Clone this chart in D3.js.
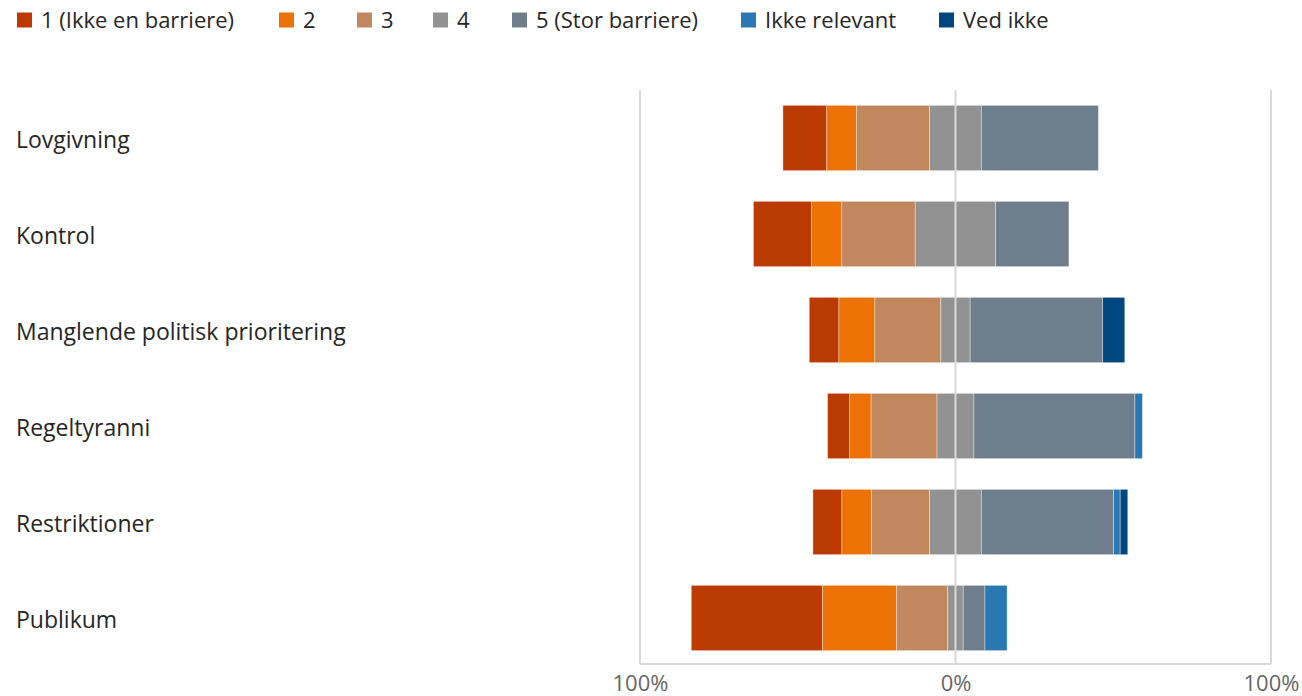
<!DOCTYPE html>
<html lang="da">
<head>
<meta charset="utf-8">
<title>Barrierer</title>
<style>
    body { margin: 0; background: #fff; }
    text { font-family: "Open Sans", "Noto Sans", sans-serif; }
    .cat { font-size: 23px; fill: #262626; }
    .tick { font-size: 22px; fill: #666; }
    .leg { font-size: 22px; fill: #262626; }
</style>
<script src="https://cdnjs.cloudflare.com/ajax/libs/d3/7.8.5/d3.min.js"></script>
</head>
<body>
<svg width="1302" height="696"></svg>
<script>
    const categories = ["Lovgivning", "Kontrol", "Manglende politisk prioritering", "Regeltyranni", "Restriktioner", "Publikum"];
    const seriesNames = ["1 (Ikke en barriere)", "2", "3", "4", "5 (Stor barriere)", "Ikke relevant", "Ved ikke"];
    const colors = ["#bb3a02", "#ec7106", "#c1875e", "#929292", "#6f7e8d", "#2a78b2", "#004780"];

    // percent per category, one array per series
    const s1 = [13.9, 18.4, 9.4, 7.0, 9.2, 41.6];
    const s2 = [9.4, 9.6, 11.4, 6.8, 9.4, 23.5];
    const s3 = [23.2, 23.3, 20.9, 20.9, 18.4, 16.2];
    const s4 = [16.4, 25.5, 9.3, 11.7, 16.4, 4.9];
    const s5 = [37.1, 23.2, 42.0, 51.0, 41.9, 6.9];
    const sIR = [0, 0, 0, 2.4, 2.1, 7.0];
    const sVI = [0, 0, 7.0, 0, 2.4, 0];
    const series = [s1, s2, s3, s4, s5, sIR, sVI];

    const tickValues = [-100, 0, 100];

    const svg = d3.select("svg");

    const x = d3.scaleLinear().domain([-100, 100]).range([640, 1271]);
    const y = d3.scaleBand().domain(categories).range([90, 666])
        .paddingInner(0.32).paddingOuter(0.16);

    // build segments: centre of category 4 at zero
    const segs = [];
    categories.forEach((c, i) => {
        let start = -(s1[i] + s2[i] + s3[i] + s4[i] / 2);
        series.forEach((s, k) => {
            segs.push({ cat: c, k: k, x0: start, x1: start + s[i] });
            start += s[i];
        });
    });

    // frame / grid
    const grid = svg.append("g");
    grid.selectAll("line.v").data(tickValues.filter(d => d !== 0)).enter().append("line")
        .attr("x1", d => x(d)).attr("x2", d => x(d))
        .attr("y1", 90).attr("y2", 664)
        .attr("stroke", "#d9d9d9").attr("stroke-width", 2);
    grid.append("line")
        .attr("x1", x(-100)).attr("x2", x(100))
        .attr("y1", 664).attr("y2", 664)
        .attr("stroke", "#d9d9d9").attr("stroke-width", 2);

    svg.append("g").selectAll("rect").data(segs.filter(d => d.x1 > d.x0)).enter().append("rect")
        .attr("x", d => x(d.x0))
        .attr("width", d => x(d.x1) - x(d.x0))
        .attr("y", d => y(d.cat))
        .attr("height", y.bandwidth())
        .attr("fill", d => colors[d.k])
        .attr("stroke", "#fff").attr("stroke-width", 0.8).attr("stroke-opacity", 0.45);

    // zero line on top of bars
    svg.append("line")
        .attr("x1", x(0)).attr("x2", x(0))
        .attr("y1", 90).attr("y2", 664)
        .attr("stroke", "#d9d9d9").attr("stroke-width", 2);

    // axis labels
    const xAxis = d3.axisBottom(x).tickValues(tickValues).tickSize(0)
        .tickFormat(d => Math.abs(d) + "%");
    const ax = svg.append("g").attr("transform", "translate(0,664)").call(xAxis);
    ax.select(".domain").remove();
    ax.selectAll("text").attr("class", "tick").attr("dy", null).attr("y", 27)
        .attr("font-family", null).attr("font-size", null);

    // category labels
    svg.append("g").selectAll("text").data(categories).enter().append("text")
        .attr("class", "cat")
        .attr("x", 16)
        .attr("y", d => y(d) + y.bandwidth() / 2 + 10)
        .text(d => d);

    // legend
    const legX = [17, 279, 357, 433, 512, 741, 939];
    const leg = svg.append("g").selectAll("g").data(seriesNames).enter().append("g")
        .attr("transform", (d, i) => "translate(" + legX[i] + ",0)");
    leg.append("rect").attr("x", 0).attr("y", 12.5).attr("width", 15).attr("height", 15)
        .attr("fill", (d, i) => colors[i]);
    leg.append("text").attr("class", "leg").attr("x", 24).attr("y", 28).text(d => d);
</script>
</body>
</html>
